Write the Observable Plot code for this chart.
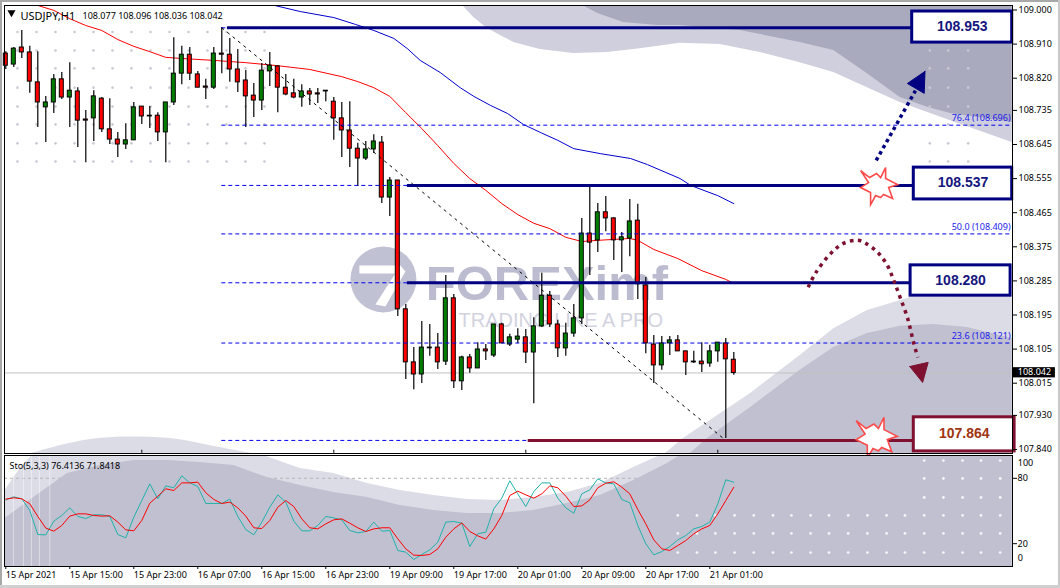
<!DOCTYPE html>
<html><head><meta charset="utf-8">
<script src="https://cdn.jsdelivr.net/npm/d3@7"></script>
<script src="https://cdn.jsdelivr.net/npm/@observablehq/plot@0.6"></script>
<style>
html,body{margin:0;padding:0;background:#fff;width:1060px;height:588px;overflow:hidden}
#page{position:relative;width:1060px;height:588px;background:#fff;overflow:hidden}
#page svg{position:absolute;left:0;display:block;overflow:visible}
.edge{position:absolute;background:#a8a8a8}
</style></head><body>
<div id="page">
<div class="edge" style="left:0;top:0;width:1060px;height:2px"></div>
<div class="edge" style="left:0;top:0;width:2px;height:588px"></div>
<div class="edge" style="left:1058px;top:0;width:2px;height:588px;background:#c8c8c8"></div>
<div class="edge" style="left:0;top:585px;width:1060px;height:3px;background:#d0d0d0"></div>
</div>
<script>
// ---------- OHLC, one entry per H1 bar ----------
const opens=[108.885,108.856,108.901,108.888,108.809,108.743,108.756,108.817,108.769,108.785,108.711,108.714,108.766,108.685,108.658,108.645,108.656,108.745,108.721,108.721,108.677,108.756,108.832,108.882,108.830,108.798,108.795,108.885,108.882,108.843,108.814,108.774,108.761,108.838,108.851,108.795,108.780,108.769,108.785,108.780,108.787,108.758,108.714,108.682,108.634,108.608,108.632,108.650,108.505,108.550,108.210,108.070,108.038,108.109,108.109,108.072,108.239,108.020,108.083,108.054,108.104,108.088,108.170,108.117,108.130,108.136,108.096,108.165,108.246,108.170,108.107,108.146,108.186,108.410,108.392,108.466,108.450,108.392,108.397,108.444,108.273,108.117,108.062,108.120,108.128,108.099,108.072,108.072,108.067,108.099,108.120,108.077];
const highs=[108.890,108.901,108.946,108.904,108.890,108.772,108.830,108.835,108.861,108.795,108.735,108.787,108.769,108.766,108.677,108.700,108.756,108.745,108.745,108.729,108.756,108.927,108.904,108.901,108.838,108.817,108.901,108.954,108.925,108.896,108.840,108.806,108.859,108.888,108.853,108.830,108.817,108.803,108.793,108.793,108.787,108.769,108.756,108.758,108.648,108.653,108.671,108.666,108.558,108.550,108.223,108.109,108.178,108.170,108.146,108.299,108.249,108.086,108.091,108.122,108.117,108.170,108.173,108.144,108.159,108.157,108.188,108.305,108.257,108.181,108.173,108.223,108.450,108.532,108.489,108.508,108.452,108.413,108.500,108.487,108.294,108.141,108.138,108.138,108.141,108.099,108.099,108.122,108.115,108.122,108.133,108.096];
const lows=[108.843,108.848,108.872,108.780,108.690,108.650,108.727,108.764,108.690,108.637,108.597,108.653,108.677,108.645,108.611,108.632,108.656,108.698,108.687,108.653,108.597,108.748,108.803,108.814,108.795,108.764,108.790,108.832,108.809,108.782,108.690,108.716,108.735,108.798,108.729,108.774,108.766,108.743,108.748,108.753,108.758,108.656,108.611,108.584,108.534,108.603,108.621,108.489,108.455,108.191,108.025,107.998,108.014,108.086,108.051,108.062,108.001,107.996,108.041,108.054,108.075,108.083,108.120,108.112,108.120,108.067,107.961,108.162,108.162,108.083,108.086,108.136,108.170,108.299,108.360,108.415,108.339,108.307,108.349,108.236,108.093,108.014,108.049,108.088,108.099,108.035,108.067,108.043,108.057,108.070,107.869,108.036];
const closes=[108.853,108.898,108.888,108.811,108.756,108.756,108.817,108.769,108.787,108.708,108.708,108.772,108.685,108.658,108.645,108.656,108.743,108.719,108.719,108.677,108.756,108.832,108.882,108.832,108.795,108.795,108.885,108.882,108.843,108.809,108.772,108.761,108.840,108.853,108.795,108.777,108.769,108.785,108.777,108.777,108.785,108.714,108.682,108.634,108.608,108.632,108.653,108.505,108.550,108.210,108.070,108.038,108.109,108.107,108.070,108.239,108.020,108.083,108.054,108.104,108.099,108.170,108.120,108.136,108.138,108.096,108.165,108.246,108.170,108.107,108.146,108.186,108.410,108.386,108.466,108.450,108.392,108.400,108.442,108.276,108.120,108.062,108.120,108.128,108.099,108.070,108.070,108.065,108.099,108.122,108.078,108.042];
// ---------- moving averages ----------
const redMaBars=[4,6,8,10,12,14,16,18,20,22,26,30,34,38,42,44,46,48,50,52,54,56,58,60,62,64,66,68,70,72,74,78,79,81,84,87,90,91];
const redMaPrices=[109.012,108.999,108.977,108.959,108.946,108.922,108.904,108.890,108.875,108.872,108.867,108.861,108.853,108.843,108.824,108.811,108.795,108.772,108.729,108.687,108.642,108.595,108.555,108.524,108.489,108.460,108.437,108.423,108.400,108.389,108.392,108.397,108.392,108.368,108.344,108.312,108.289,108.278];
const blueMaBars=[33.6,36.8,41.0,43.7,46.0,48.5,50.2,51.8,54.3,56.8,58.5,60.6,62.7,64.7,66.8,69.0,71.0,74.3,78.1,80.2,84.3,85.6,89.0,91.0];
const blueMaPrices=[109.012,108.996,108.980,108.962,108.946,108.925,108.898,108.867,108.835,108.795,108.772,108.748,108.727,108.698,108.677,108.656,108.634,108.621,108.608,108.592,108.555,108.537,108.510,108.489];
// ---------- stochastic ----------
const stoK=[60.2,63.0,61.2,50.5,28.4,28.1,40.7,45.9,52.9,45.0,43.1,46.5,46.5,45.0,28.4,25.4,44.3,59.6,74.9,61.2,73.1,71.3,82.3,75.8,72.5,56.9,56.9,56.9,60.9,45.0,33.0,28.1,39.8,53.5,64.8,58.1,40.7,31.8,31.8,36.7,45.0,43.7,41.9,32.1,30.0,31.2,39.8,31.5,32.1,13.8,12.2,5.5,10.1,14.4,21.4,39.8,40.4,38.8,17.4,29.1,30.6,52.0,61.8,77.7,65.7,54.1,67.9,75.8,75.8,61.8,52.9,48.0,65.7,69.4,79.5,75.8,74.9,60.6,57.5,36.7,19.9,9.8,12.8,17.4,23.5,27.5,33.6,35.8,39.8,56.6,78.6,76.4];
const stoD=[60.9,62.1,61.2,56.6,45.0,34.3,31.5,36.7,45.3,47.4,47.4,45.9,45.3,45.6,39.8,32.7,31.8,41.3,57.2,63.6,70.3,68.8,75.8,75.8,76.5,66.7,60.6,56.9,58.1,52.9,45.3,34.6,33.9,41.3,53.5,59.6,54.1,42.8,34.6,33.6,38.2,41.9,42.8,38.8,34.6,31.2,33.6,34.6,34.6,24.5,15.3,9.5,9.2,10.1,15.3,26.0,33.6,39.1,31.2,27.2,24.2,33.6,45.9,64.2,68.2,64.8,61.8,65.7,73.1,71.3,63.6,54.1,54.7,60.2,71.3,75.5,76.8,71.9,65.7,51.4,38.2,23.5,15.3,13.8,18.3,22.9,29.1,33.6,36.7,47.4,59.6,71.8];
// ---------- levels and labels ----------
const fibLevels=[108.953,108.696,108.537,108.409,108.280,108.121,107.864];
const fibLabels=["76.4 (108.696)","50.0 (108.409)","23.6 (108.121)"];
const fibLabelPrices=[108.714,108.426,108.138];
const levelNames=["108.953","108.537","108.280","107.864"];
const levelPrices=[108.953,108.537,108.280,107.864];
const levelStartBars=[27.7,50.2,50.2,65.3];
const levelEndBars=[113.3,113.5,113.1,113.5];
const boxRightBars=[125.8,125.8,125.6,126.1];
const boxTops=[108.996,108.584,108.326,107.925];
const boxBottoms=[108.914,108.500,108.246,107.835];
const boxTextPrices=[108.956,108.545,108.286,107.882];
const levelColors=["#000080","#000080","#000080","#801030"];
const boxTextColors=["#16167e","#16167e","#16167e","#a03510"];
const priceTicks=[109.000,108.910,108.820,108.735,108.645,108.555,108.465,108.375,108.285,108.195,108.105,108.015,107.930,107.840];
const timeTickBars=[0,8,16,24,32,40,48,56,64,72,80,88];
const timeTickLabels=["15 Apr 2021","15 Apr 15:00","15 Apr 23:00","16 Apr 07:00","16 Apr 15:00","16 Apr 23:00","19 Apr 09:00","19 Apr 17:00","20 Apr 01:00","20 Apr 09:00","20 Apr 17:00","21 Apr 01:00"];
const minorTickBars=[17,41,65,89];
// ---------- watermark outlines ----------
const topLightBars=[57.1,58.5,60.2,63.5,66.8,71.0,75.2,79.3,84.3,89.3,94.3,99.3,103.5,107.7,111.8,118.1,125.8];
const topLightPrices=[109.012,108.980,108.951,108.914,108.896,108.885,108.888,108.898,108.912,108.909,108.888,108.861,108.835,108.795,108.756,108.708,108.650];
const topDarkBars=[72.1,74.0,77.2,81.5,84.3,91.8,99.3,103.5,107.7,111.8,115.2,118.1,125.8];
const topDarkPrices=[109.012,108.991,108.967,108.959,108.959,108.946,108.914,108.893,108.832,108.769,108.743,108.727,108.703];
const lowLightBars=[82.5,84.7,93.1,99.3,103.5,107.7,113.1,125.8];
const lowLightPrices=[107.830,107.869,107.988,108.088,108.159,108.207,108.241,108.246];
const lowDarkBars=[85.6,87.7,93.1,99.3,103.5,107.7,111.8,116.0,120.2,125.8];
const lowDarkPrices=[107.830,107.869,107.951,108.049,108.109,108.146,108.165,108.170,108.162,108.133];
const humpBars=[3.3,7.7,11.8,16.8,21.5,25.2,30.6];
const humpPrices=[107.830,107.856,107.872,107.874,107.869,107.851,107.830];
const stoDarkBars=[-0.1,3.5,7.7,11.8,16.0,20.2,24.3,28.5,32.7,36.8,41.0,45.2,49.3,53.5,57.7,61.8,66.0,70.2,74.3,78.5,82.7,84.3,125.8];
const stoDarkValues=[43.1,62.4,84.4,91.7,96.3,96.3,94.5,91.7,80.7,73.4,67.0,62.4,55.0,50.5,47.7,47.7,50.5,56.9,64.2,78.0,93.6,100.9,102];
const stoLightBars=[-0.1,1.8,3.3,31.8,36.8,41.0,45.2,49.3,53.5,57.7,61.8,66.0,70.2,74.3,78.5,81.8,125.8];
const stoLightValues=[68.8,89.0,100.9,102,89.0,84.4,75.2,68.8,64.2,60.6,59.6,62.4,67.0,75.2,89.9,100.9,102];
const gridBarsLeft=[1.46,3.84,6.21,8.59,10.96,13.34,15.71,18.09,20.46,22.84,25.21,27.59,29.96,32.34];
const gridBarsRight=[115.5,117.8,120.3];
const gridPrices=[108.942,108.893,108.846,108.795,108.745,108.698,108.648,108.600];
const stoDotBarsWide=[84,86.4,88.7,91.1,93.5,95.9,98.2,100.6,102.9,105.3,107.7,110.1,112.4,114.8,117.2,119.6,121.9,124.3];
const stoDotBarsRight=[114.8,117.2,119.6,121.9,124.3];
const stoDotRowsWide=[45.9,29.4,11.9];
const stoDotRowsRight=[96.3,79.8,62.4];
const stripeBars=[0.96,2.2,3.2,4.2,5.5];
// ---------- arrows ----------
const upArrowBars=[108.8,113.7];
const upArrowPrices=[108.603,108.787];
const upHeadBars=[114.9,112.7,114.8,114.9];
const upHeadPrices=[108.838,108.806,108.780,108.838];
const downArrowBars=[100.3,101.2,103.1,104.7,106.5,107.5,109.0,110.2,111.0,111.8,112.7,113.5,114.0];
const downArrowPrices=[108.268,108.305,108.357,108.384,108.392,108.384,108.360,108.326,108.286,108.241,108.188,108.120,108.083];
const downHeadBars=[113.0,115.3,114.6,113.0];
const downHeadPrices=[108.059,108.070,108.017,108.059];
const burstBars=[109.1,108.8];
const burstPrices=[108.534,107.869];
// relative outline of the starburst shape and the logo's cut
const burstOutline=[[-18,-16],[-9,-9],[-2,-13],[2,-9],[7,-19],[7,-8],[19,-2],[10,1],[14,12],[5,8],[2,11],[-3,9],[-8,18],[-8,6],[-18,1],[-10,-4]];
const logoCut=[[-24,-14],[17,-14],[12,-6],[-24,-6]];
const logoCut2=[[17,-14],[22,-8],[2,27],[-8,25]];

const rows=(a,b,k1="x",k2="y")=>a.map((v,i)=>({[k1]:v,[k2]:b[i]}));
const candles=opens.map((o,i)=>({i,o,h:highs[i],l:lows[i],c:closes[i]}));
const levels=levelNames.map((name,i)=>({name,p:levelPrices[i],a:levelStartBars[i],b:levelEndBars[i],r:boxRightBars[i],t:boxTops[i],u:boxBottoms[i],tp:boxTextPrices[i],col:levelColors[i],tc:boxTextColors[i]}));
const polySymbol=(pts,base)=>({draw(ctx,size){const s=Math.sqrt(size/Math.PI)/base;pts.forEach(([x,y],k)=>k?ctx.lineTo(x*s,y*s):ctx.moveTo(x*s,y*s));ctx.closePath();}});
const burstSymbol=polySymbol(burstOutline,18);
const bursts=rows(burstBars,burstPrices);
const X={domain:[0,125.8],range:[5.3,1011.7],axis:null};
const FONT='"Noto Sans",sans-serif';
const grey="#c9c9d4";

const main=Plot.plot({
  width:1060,height:453,marginLeft:4,marginRight:48,marginTop:5,marginBottom:0,
  x:X,y:{domain:[107.84,109],range:[449,9.5],axis:null},
  style:{background:"transparent",fontFamily:FONT,fontSize:"9px",overflow:"visible"},
  marks:[
    Plot.areaY(rows(topLightBars,topLightPrices),{x:"x",y1:"y",y2:()=>109.02,fill:"#cfcfdd",clip:"frame"}),
    Plot.areaY(rows(topDarkBars,topDarkPrices),{x:"x",y1:"y",y2:()=>109.02,fill:"#aaaabe",clip:"frame"}),
    Plot.areaY(rows(lowLightBars,lowLightPrices),{x:"x",y1:"y",y2:()=>107.82,fill:"#dcdce6",clip:"frame"}),
    Plot.areaY(rows(lowDarkBars,lowDarkPrices),{x:"x",y1:"y",y2:()=>107.82,fill:"#c0c0d0",clip:"frame"}),
    Plot.areaY(rows(humpBars,humpPrices),{x:"x",y1:"y",y2:()=>107.82,fill:"#dcdce6",curve:"basis",clip:"frame"}),
    Plot.dot(d3.cross(gridBarsLeft.concat(gridBarsRight),gridPrices),{x:d=>d[0],y:d=>d[1],r:1.3,fill:grey}),
    // logo watermark
    Plot.dot([{x:47.2,y:108.289}],{x:"x",y:"y",r:33,fill:"#c0c1d3"}),
    Plot.dot([{x:47.2,y:108.289}],{x:"x",y:"y",r:33,fill:"#fff",symbol:polySymbol(logoCut,33)}),
    Plot.dot([{x:47.2,y:108.289}],{x:"x",y:"y",r:33,fill:"#fff",symbol:polySymbol(logoCut2,33)}),
    Plot.text(["FOREXimf"],{x:()=>52.5,y:()=>108.276,text:d=>d,textAnchor:"start",fontSize:49,fontWeight:"bold",fontFamily:'"Liberation Sans"',fill:"#bbbccf"}),
    Plot.text(["TRADING LIKE A PRO"],{x:()=>56.6,y:()=>108.181,text:d=>d,textAnchor:"start",fontSize:20,fontFamily:'"Liberation Sans"',fill:"#d2d3df"}),
    // last price line
    Plot.ruleY([108.042],{stroke:"#c0c0c0"}),
    // moving averages
    Plot.line(rows(blueMaBars,blueMaPrices),{x:"x",y:"y",stroke:"#0000d0",strokeWidth:1,clip:"frame"}),
    Plot.line(rows(redMaBars,redMaPrices),{x:"x",y:"y",stroke:"#ff0000",strokeWidth:1,clip:"frame"}),
    // candles
    Plot.ruleX(candles,{x:"i",y1:"l",y2:"h",stroke:"#000",strokeWidth:1.2}),
    Plot.rect(candles,{filter:d=>d.c<d.o,x1:d=>d.i-0.25,x2:d=>d.i+0.25,y1:"o",y2:"c",fill:"#ff0000",stroke:"#000",strokeWidth:1}),
    Plot.rect(candles,{filter:d=>d.c>=d.o,x1:d=>d.i-0.25,x2:d=>d.i+0.25,y1:"o",y2:"c",fill:"#008000",stroke:"#000",strokeWidth:1}),
    // fibonacci
    Plot.ruleY(fibLevels,{x1:()=>27,x2:()=>125.6,stroke:"#0000ee",strokeWidth:1,strokeDasharray:"4 3"}),
    Plot.line([{x:27,y:108.953},{x:90,y:107.864}],{x:"x",y:"y",stroke:"#000",strokeWidth:1,strokeDasharray:"3 4",strokeLinecap:"butt"}),
    Plot.text(fibLabels,{x:()=>125.6,y:(d,i)=>fibLabelPrices[i],text:d=>d,textAnchor:"end",fill:"#1a1aee"}),
    // key levels
    Plot.ruleY(levels,{y:"p",x1:"a",x2:"b",stroke:d=>d.col,strokeWidth:3}),
    Plot.rect(levels,{x1:"b",x2:"r",y1:"t",y2:"u",fill:"#fff",stroke:d=>d.col,strokeWidth:3}),
    Plot.text(levels,{x:d=>(d.b+d.r)/2,y:"tp",text:"name",fill:d=>d.tc,fontSize:14,fontWeight:"bold",fontFamily:'"Liberation Sans"'}),
    // arrows
    Plot.line(rows(upArrowBars,upArrowPrices),{x:"x",y:"y",stroke:"#000080",strokeWidth:3.5,strokeDasharray:"3.5 3.5",strokeLinecap:"butt"}),
    Plot.line(rows(upHeadBars,upHeadPrices),{x:"x",y:"y",fill:"#000080",stroke:"#000080",strokeWidth:1}),
    Plot.line(rows(downArrowBars,downArrowPrices),{x:"x",y:"y",curve:"catmull-rom",stroke:"#7e1030",strokeWidth:3.5,strokeDasharray:"3.5 4.5",strokeLinecap:"butt"}),
    Plot.line(rows(downHeadBars,downHeadPrices),{x:"x",y:"y",fill:"#7e1030",stroke:"#7e1030",strokeWidth:1}),
    // bursts
    Plot.dot([bursts[0]],{x:"x",y:"y",r:18,symbol:burstSymbol,fill:"#fff",stroke:"#ff4a4a",strokeWidth:1.6}),
    Plot.dot([bursts[1]],{x:"x",y:"y",r:20,symbol:burstSymbol,fill:"#fff",stroke:"#ff4a4a",strokeWidth:1.6}),
    Plot.frame({stroke:"#000"}),
    Plot.ruleX(minorTickBars,{x:d=>d,y1:()=>107.830,y2:()=>107.838,stroke:"#000"}),
    Plot.axisY(priceTicks,{anchor:"right",tickSize:4,tickPadding:2,tickFormat:d3.format(".3f"),label:null}),
    // last price tag
    Plot.rect([0],{x1:()=>125.95,x2:()=>131.2,y1:()=>108.056,y2:()=>108.029,fill:"#000"}),
    Plot.text(["108.042"],{x:()=>126.5,y:()=>108.044,text:d=>d,textAnchor:"start",fill:"#fff"}),
    // header
    Plot.dot([0],{frameAnchor:"top-left",dx:7,dy:7,symbol:"triangle",r:3,rotate:180,fill:"#000"}),
    Plot.text(["USDJPY,H1"],{frameAnchor:"top-left",dx:16,dy:7,text:d=>d,textAnchor:"start",fontSize:11,fill:"#000"}),
    Plot.text(["108.077 108.096 108.036 108.042"],{frameAnchor:"top-left",dx:78,dy:7,text:d=>d,textAnchor:"start",fill:"#000"})
  ]
});
main.style.top="0px";

const stoRows=stoK.map((k,i)=>({i,k,d:stoD[i]}));
const sto=Plot.plot({
  width:1060,height:135,marginLeft:4,marginRight:48,marginTop:2,marginBottom:22,
  x:X,y:{domain:[0,100],range:[112,3],axis:null},
  style:{background:"transparent",fontFamily:FONT,fontSize:"9px",overflow:"visible"},
  marks:[
    Plot.areaY(rows(stoLightBars,stoLightValues),{x:"x",y1:"y",y2:()=>-2,fill:"#dcdce6",clip:"frame"}),
    Plot.ruleY([80,20],{stroke:"#b4b4b4",strokeDasharray:"3 3"}),
    Plot.areaY(rows(stoDarkBars,stoDarkValues),{x:"x",y1:"y",y2:()=>-2,fill:"#c0c0d0",clip:"frame"}),
    Plot.ruleX(stripeBars,{x:d=>d,y1:()=>-1,y2:()=>101,stroke:"#fff",strokeOpacity:0.45,strokeWidth:1}),
    Plot.dot(d3.cross(stoDotBarsWide,stoDotRowsWide),{x:d=>d[0],y:d=>d[1],r:1.4,fill:"#f4f4f8"}),
    Plot.dot(d3.cross(stoDotBarsRight,stoDotRowsRight),{x:d=>d[0],y:d=>d[1],r:1.4,fill:"#f4f4f8"}),
    Plot.line(stoRows,{x:"i",y:"k",stroke:"#20b2aa",strokeWidth:1}),
    Plot.line(stoRows,{x:"i",y:"d",stroke:"#ff0000",strokeWidth:1}),
    Plot.frame({stroke:"#000"}),
    Plot.axisX(timeTickBars,{anchor:"bottom",tickSize:3,tickPadding:2,textAnchor:"start",dx:0,tickFormat:i=>timeTickLabels[timeTickBars.indexOf(i)],label:null}),
    Plot.axisY([20,80],{anchor:"right",tickSize:4,tickPadding:1,label:null}),
    Plot.text([100],{x:()=>126.5,y:d=>d,dy:7,text:d=>String(d),textAnchor:"start",fill:"#000"}),
    Plot.text([0],{x:()=>126.5,y:d=>d,dy:-7,text:d=>String(d),textAnchor:"start",fill:"#000"}),
    Plot.text(["Sto(5,3,3) 76.4136 71.8418"],{frameAnchor:"top-left",dx:5,dy:7,text:d=>d,textAnchor:"start",fill:"#000"})
  ]
});
sto.style.top="453px";
const page=document.getElementById("page");
page.appendChild(main);
page.appendChild(sto);
</script>
</body></html>
